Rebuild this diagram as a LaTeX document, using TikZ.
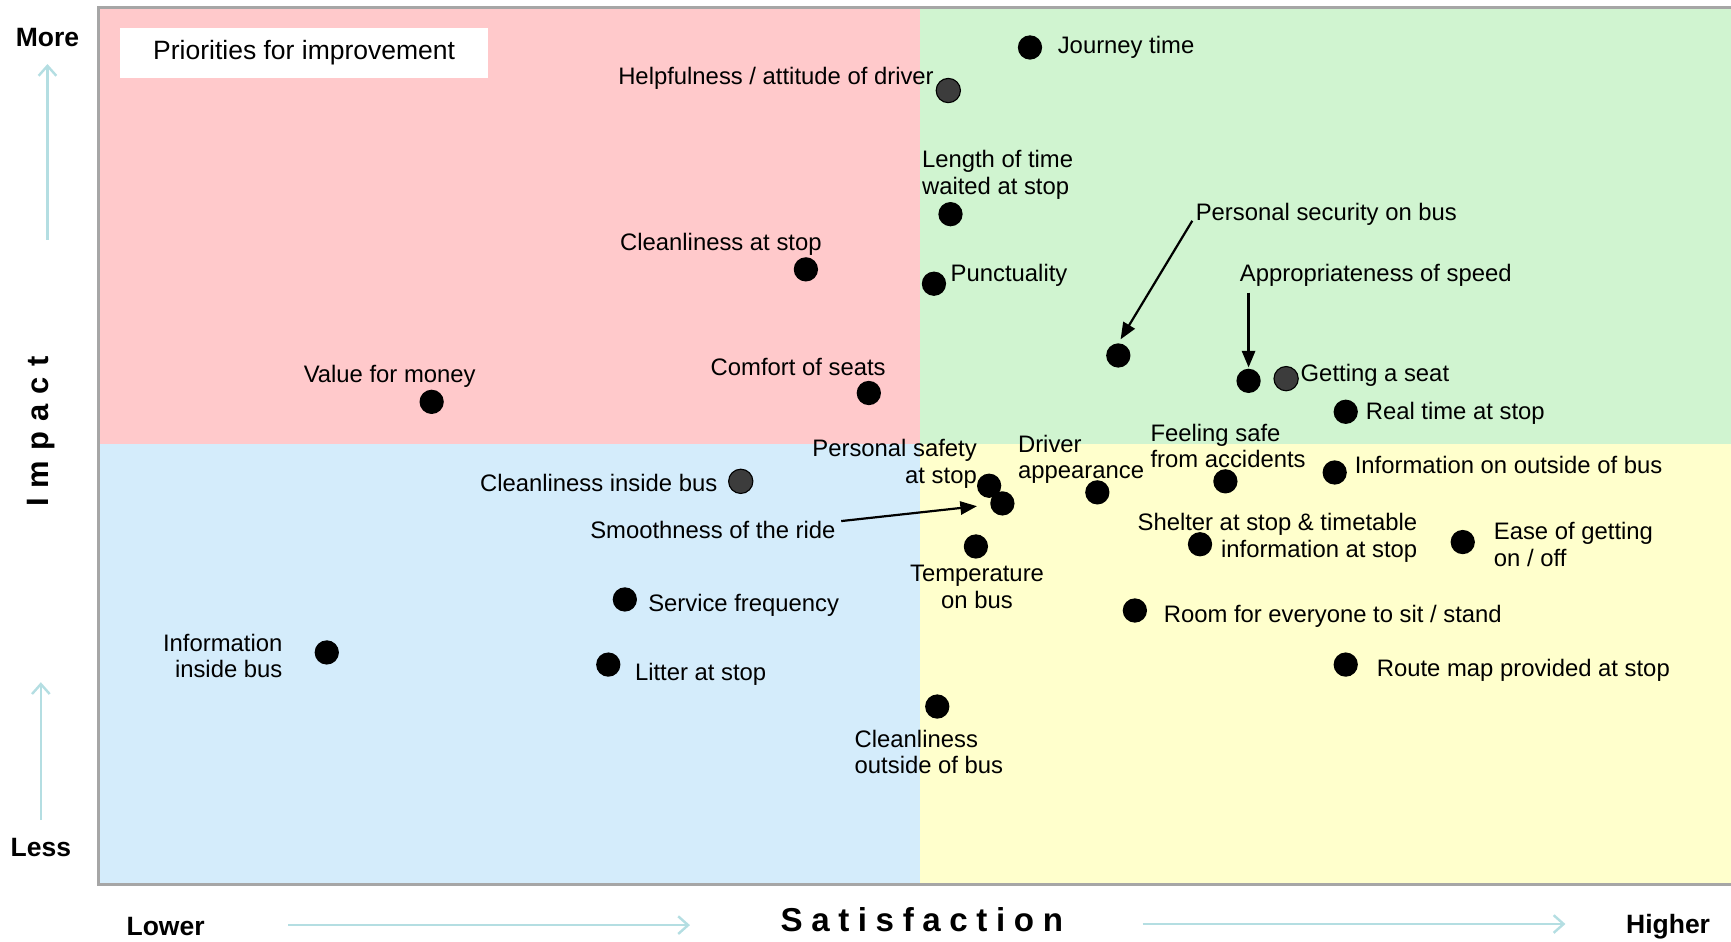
\documentclass[tikz,border=0pt]{standalone}
\usepackage{fontspec}
\setmainfont{Liberation Sans}
\usetikzlibrary{arrows.meta,calc}
\definecolor{qpink}{HTML}{FFC9CB}
\definecolor{qgreen}{HTML}{D0F4D0}
\definecolor{qblue}{HTML}{D4ECFB}
\definecolor{qyellow}{HTML}{FFFFCC}
\definecolor{qborder}{HTML}{A6A6A6}
\definecolor{axcol}{HTML}{B4DEE2}
\definecolor{gdotcol}{HTML}{3C3C3C}
\tikzset{
  dot/.style={circle, fill=black, minimum size=22pt, inner sep=0pt},
  gdot/.style={circle, fill=gdotcol, draw=black, line width=1pt, minimum size=22pt, inner sep=0pt},
  lbl/.style={inner sep=0pt, font=\fontsize{21.6}{24}\selectfont},
  axlbl/.style={inner sep=0pt, font=\fontsize{24}{28}\selectfont\bfseries},
  axarrow/.style={draw=axcol, line width=2.2pt, -{Straight Barb[length=9pt, width=16pt, line width=2.2pt]}},
  leader/.style={draw=black, line width=2pt, -{Triangle[length=15pt, width=12pt]}},
}
\begin{document}
\begin{tikzpicture}[x=1pt, y=-1pt]
\useasboundingbox (0,0) rectangle (1568,853);
% quadrants
\fill[qpink] (89,7) rectangle (833,402);
\fill[qgreen] (833,7) rectangle (1568,402);
\fill[qblue] (89,402) rectangle (833,801);
\fill[qyellow] (833,402) rectangle (1568,801);
\draw[qborder, line width=2.5pt] (1568,7) -- (89,7) -- (89,801) -- (1568,801);
% title box
\node[fill=white, minimum width=333pt, minimum height=46pt, inner sep=0pt,
      font=\fontsize{24}{28}\selectfont] (title) at (275.5,48) {Priorities for improvement};
% axis labels
\node[axlbl] (more) at (43,34) {More};
\node[axlbl] (less) at (37,768) {Less};
\node[axlbl] (lower) at (150,839) {Lower};
\node[axlbl] (higher) at (1511,839) {Higher};
\node[inner sep=0pt, font=\fontsize{30}{34}\selectfont\bfseries] (satis) at (835,833)
  {S\kern.26em a\kern.26em t\kern.26em i\kern.26em s\kern.26em f\kern.26em a\kern.26em c\kern.26em t\kern.26em i\kern.26em o\kern.26em n};
\node[inner sep=0pt, rotate=90, font=\fontsize{28}{32}\selectfont\bfseries] (impact) at (37,391)
  {I\kern.33em m\kern.33em p\kern.33em a\kern.33em c\kern.33em t};
% axis arrows
\coordinate (upAs) at (43,217); \coordinate (upAe) at (43,58);
\coordinate (upBs) at (37,743); \coordinate (upBe) at (37,618);
\coordinate (rtAs) at (261,838); \coordinate (rtAe) at (625,838);
\coordinate (rtBs) at (1035,837); \coordinate (rtBe) at (1418,837);
\draw[axarrow] (upAs) -- (upAe);
\draw[axarrow] (upBs) -- (upBe);
\draw[axarrow] (rtAs) -- (rtAe);
\draw[axarrow] (rtBs) -- (rtBe);
% dots
\node[dot]  (journey)  at (933,43) {};
\node[gdot] (helpful)  at (859,82) {};
\node[dot]  (waited)   at (861,194) {};
\node[dot]  (cleanstop) at (730,244) {};
\node[dot]  (punct)    at (846,257) {};
\node[dot]  (security) at (1013,322) {};
\node[dot]  (speed)    at (1131,345) {};
\node[gdot] (seat)     at (1165,343) {};
\node[dot]  (realtime) at (1219,373) {};
\node[dot]  (value)    at (391,364) {};
\node[dot]  (comfort)  at (787,356) {};
\node[gdot] (cleaninside) at (671,436) {};
\node[dot]  (pssafety) at (896,440) {};
\node[dot]  (smooth)   at (908,456) {};
\node[dot]  (driverapp) at (994,446) {};
\node[dot]  (feelsafe) at (1110,436) {};
\node[dot]  (infoout)  at (1209,428) {};
\node[dot]  (temp)     at (884,495) {};
\node[dot]  (shelter)  at (1087,493) {};
\node[dot]  (ease)     at (1325,491) {};
\node[dot]  (room)     at (1028,553) {};
\node[dot]  (service)  at (566,543) {};
\node[dot]  (infoin)   at (296,591) {};
\node[dot]  (litter)   at (551,602) {};
\node[dot]  (routemap) at (1219,602) {};
\node[dot]  (cleanout) at (849,640) {};
% labels
\node[lbl, anchor=north west] (journeyL) at (958,33) {Journey time};
\node[lbl, anchor=north east] (helpfulL) at (846,61) {Helpfulness / attitude of driver};
\node[lbl, anchor=north west, align=left] (waitedL) at (835,136) {Length of time\\waited at stop};
\node[lbl, anchor=north] (cleanstopL) at (653,211) {Cleanliness at stop};
\node[lbl, anchor=north west] (punctL) at (861,239) {Punctuality};
\node[lbl, anchor=north west] (securityL) at (1083,184) {Personal security on bus};
\node[lbl, anchor=north west] (speedL) at (1123,239) {Appropriateness of speed};
\node[lbl, anchor=north west] (seatL) at (1178,330) {Getting a seat};
\node[lbl, anchor=north west] (realtimeL) at (1237,364) {Real time at stop};
\node[lbl, anchor=north] (valueL) at (353,331) {Value for money};
\node[lbl, anchor=north] (comfortL) at (723,324) {Comfort of seats};
\node[lbl, anchor=north east] (cleaninsideL) at (650,429) {Cleanliness inside bus};
\node[lbl, anchor=north east, align=right] (pssafetyL) at (885,398) {Personal safety\\at stop};
\node[lbl, anchor=north east] (smoothL) at (757,472) {Smoothness of the ride};
\node[lbl, anchor=north west, align=left] (driverappL) at (922,394) {Driver\\appearance};
\node[lbl, anchor=north west, align=left] (feelsafeL) at (1042,384) {Feeling safe\\from accidents};
\node[lbl, anchor=north west] (infooutL) at (1227,413) {Information on outside of bus};
\node[lbl, anchor=north, align=center] (tempL) at (885,512) {Temperature\\on bus};
\node[lbl, anchor=north east, align=right] (shelterL) at (1284,465) {Shelter at stop \& timetable\\information at stop};
\node[lbl, anchor=north west, align=left] (easeL) at (1353,473) {Ease of getting\\on / off};
\node[lbl, anchor=north west] (roomL) at (1054,548) {Room for everyone to sit / stand};
\node[lbl, anchor=north west] (serviceL) at (587,538) {Service frequency};
\node[lbl, anchor=north east, align=right] (infoinL) at (256,574) {Information\\inside bus};
\node[lbl, anchor=north west] (litterL) at (575,601) {Litter at stop};
\node[lbl, anchor=north west] (routemapL) at (1247,597) {Route map provided at stop};
\node[lbl, anchor=north west, align=left] (cleanoutL) at (774,661) {Cleanliness\\outside of bus};
% leader arrows
\coordinate (securityS) at (1080,200);
\coordinate (speedS) at (1131,265);
\coordinate (smoothS) at (762,472);
\draw[leader, shorten >=4pt] (securityS) -- (security.north);
\draw[leader, shorten >=1pt] (speedS) -- (speed);
\draw[leader, shorten >=12pt] (smoothS) -- (smooth);
\end{tikzpicture}
\end{document}
